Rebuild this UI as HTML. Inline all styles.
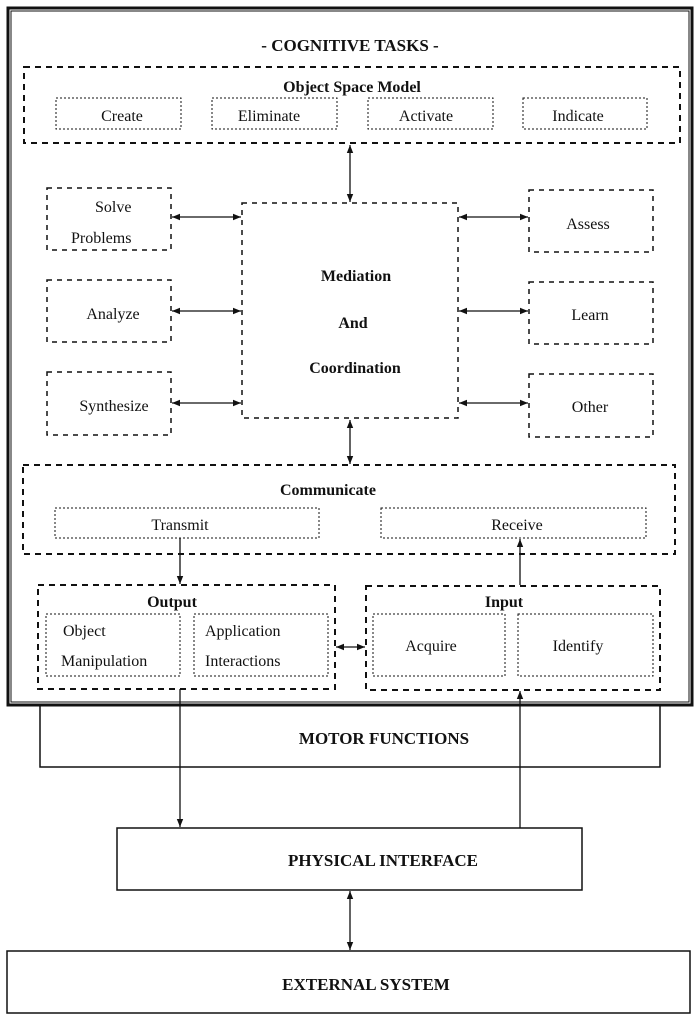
<!DOCTYPE html>
<html><head><meta charset="utf-8"><style>
html,body{margin:0;padding:0;background:#fff}
svg{display:block}
text{font-family:"Liberation Serif",serif;fill:#111;text-anchor:middle}
.b{font-weight:bold}
</style></head><body>
<svg width="700" height="1021" viewBox="0 0 700 1021" xmlns="http://www.w3.org/2000/svg">
<defs>
<marker id="a" viewBox="0 0 10 10" refX="10" refY="5" markerWidth="8" markerHeight="8" orient="auto-start-reverse" markerUnits="userSpaceOnUse"><path d="M0,1 L10,5 L0,9 z" fill="#111"/></marker>
</defs>
<g fill="none" stroke="#111">
<!-- outer frame -->
<rect x="8" y="8" width="684" height="697" stroke-width="3"/>
<rect x="11" y="11" width="678" height="691" stroke-width="1"/>
<!-- object space model -->
<rect x="24" y="67" width="656" height="76" stroke-width="2" stroke-dasharray="6,5"/>
<g stroke-width="1" stroke-dasharray="2,2">
<rect x="56" y="98" width="125" height="31"/>
<rect x="212" y="98" width="125" height="31"/>
<rect x="368" y="98" width="125" height="31"/>
<rect x="523" y="98" width="124" height="31"/>
</g>
<!-- side boxes -->
<g stroke-width="1.5" stroke-dasharray="5,5">
<rect x="47" y="188" width="124" height="62"/>
<rect x="47" y="280" width="124" height="62"/>
<rect x="47" y="372" width="124" height="63"/>
<rect x="242" y="203" width="216" height="215"/>
<rect x="529" y="190" width="124" height="62"/>
<rect x="529" y="282" width="124" height="62"/>
<rect x="529" y="374" width="124" height="63"/>
</g>
<!-- communicate -->
<rect x="23" y="465" width="652" height="89" stroke-width="2" stroke-dasharray="6,5"/>
<g stroke-width="1" stroke-dasharray="2,2">
<rect x="55" y="508" width="264" height="30"/>
<rect x="381" y="508" width="265" height="30"/>
</g>
<!-- output / input -->
<rect x="38" y="585" width="297" height="104" stroke-width="2" stroke-dasharray="6,5"/>
<rect x="366" y="586" width="294" height="104" stroke-width="2" stroke-dasharray="6,5"/>
<g stroke-width="1" stroke-dasharray="2,2">
<rect x="46" y="614" width="134" height="62"/>
<rect x="194" y="614" width="134" height="62"/>
<rect x="373" y="614" width="132" height="62"/>
<rect x="518" y="614" width="135" height="62"/>
</g>
<!-- motor functions -->
<path d="M40,705 V767 H660 V705" stroke-width="1.5"/>
<!-- physical / external -->
<rect x="117" y="828" width="465" height="62" stroke-width="1.5"/>
<rect x="7" y="951" width="683" height="62" stroke-width="1.5"/>
<!-- connectors -->
<g stroke-width="1.3">
<line x1="350" y1="145" x2="350" y2="202" marker-start="url(#a)" marker-end="url(#a)"/>
<line x1="172" y1="217" x2="241" y2="217" marker-start="url(#a)" marker-end="url(#a)"/>
<line x1="172" y1="311" x2="241" y2="311" marker-start="url(#a)" marker-end="url(#a)"/>
<line x1="172" y1="403" x2="241" y2="403" marker-start="url(#a)" marker-end="url(#a)"/>
<line x1="459" y1="217" x2="528" y2="217" marker-start="url(#a)" marker-end="url(#a)"/>
<line x1="459" y1="311" x2="528" y2="311" marker-start="url(#a)" marker-end="url(#a)"/>
<line x1="459" y1="403" x2="528" y2="403" marker-start="url(#a)" marker-end="url(#a)"/>
<line x1="350" y1="420" x2="350" y2="464" marker-start="url(#a)" marker-end="url(#a)"/>
<line x1="180" y1="538" x2="180" y2="584" marker-end="url(#a)"/>
<line x1="520" y1="585" x2="520" y2="539" marker-end="url(#a)"/>
<line x1="336" y1="647" x2="365" y2="647" marker-start="url(#a)" marker-end="url(#a)"/>
<line x1="180" y1="689" x2="180" y2="827" marker-end="url(#a)"/>
<line x1="520" y1="828" x2="520" y2="691" marker-end="url(#a)"/>
<line x1="350" y1="891" x2="350" y2="950" marker-start="url(#a)" marker-end="url(#a)"/>
</g>
</g>
<text x="350" y="51" class="b" font-size="17">- COGNITIVE TASKS -</text>
<text x="352" y="92" class="b" font-size="16">Object Space Model</text>
<g font-size="16">
<text x="122" y="121">Create</text>
<text x="269" y="121">Eliminate</text>
<text x="426" y="121">Activate</text>
<text x="578" y="121">Indicate</text>
<text x="95" y="212" text-anchor="start" style="text-anchor:start">Solve</text>
<text x="71" y="243" style="text-anchor:start">Problems</text>
<text x="113" y="319">Analyze</text>
<text x="114" y="411">Synthesize</text>
<text x="588" y="229">Assess</text>
<text x="590" y="320">Learn</text>
<text x="590" y="412">Other</text>
<text x="180" y="530">Transmit</text>
<text x="517" y="530">Receive</text>
<text x="63" y="636" style="text-anchor:start">Object</text>
<text x="61" y="666" style="text-anchor:start">Manipulation</text>
<text x="205" y="636" style="text-anchor:start">Application</text>
<text x="205" y="666" style="text-anchor:start">Interactions</text>
<text x="431" y="651">Acquire</text>
<text x="578" y="651">Identify</text>
</g>
<g class="b" font-size="16">
<text x="356" y="281">Mediation</text>
<text x="353" y="328">And</text>
<text x="355" y="373">Coordination</text>
<text x="328" y="495">Communicate</text>
<text x="172" y="607">Output</text>
<text x="504" y="607">Input</text>
</g>
<g class="b" font-size="17">
<text x="384" y="744">MOTOR FUNCTIONS</text>
<text x="383" y="866">PHYSICAL INTERFACE</text>
<text x="366" y="990">EXTERNAL SYSTEM</text>
</g>
</svg>
</body></html>
